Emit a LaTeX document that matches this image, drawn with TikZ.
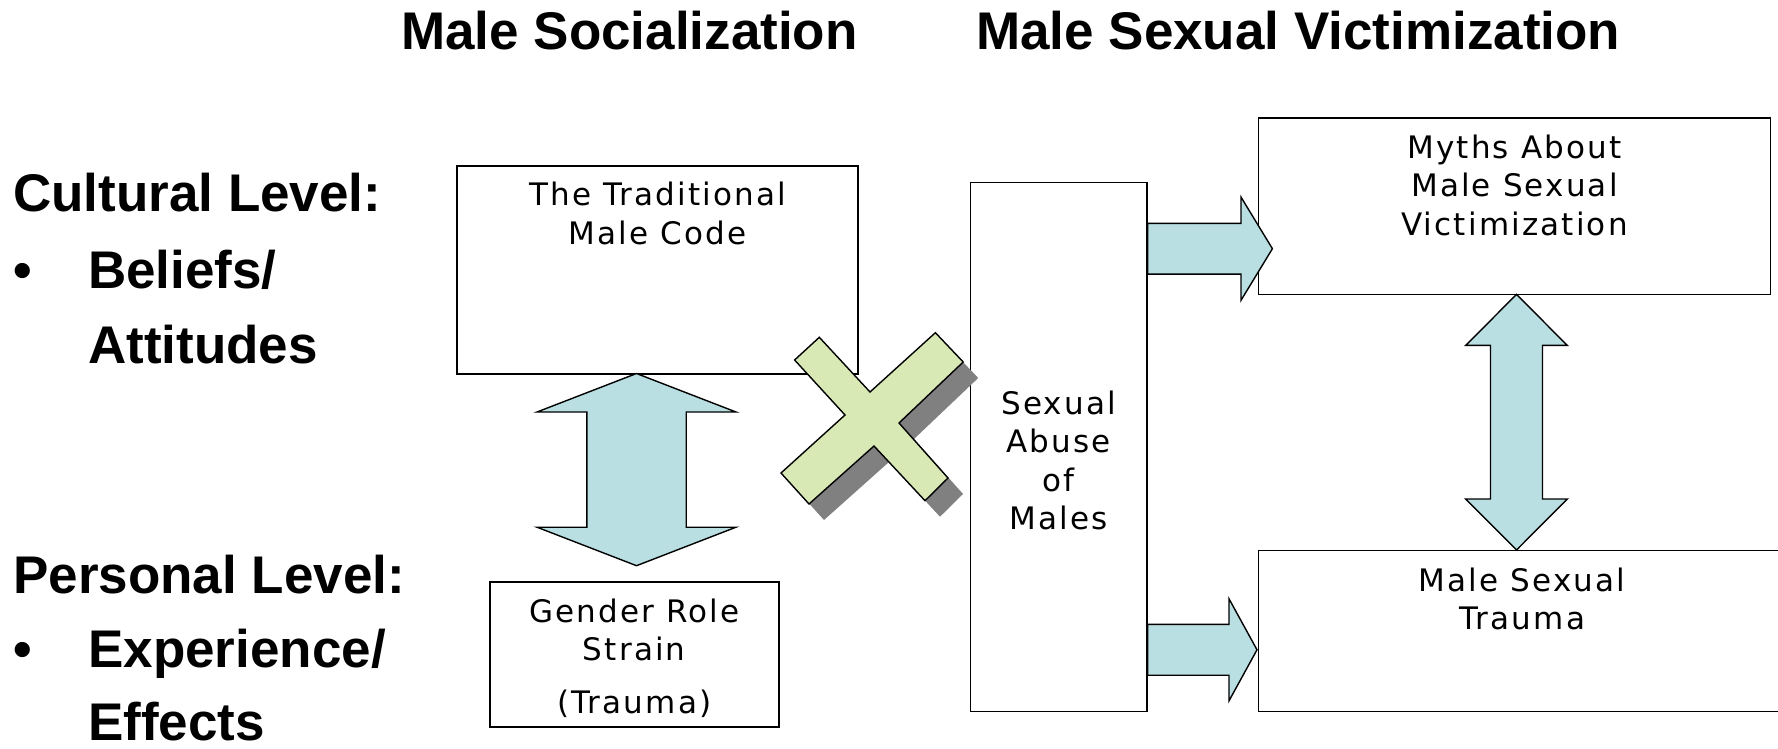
\documentclass[tikz,border=0pt]{standalone}
\usepackage{fontspec}
\setmainfont{Liberation Sans}
\newfontfamily\boxfont[LetterSpace=7]{DejaVu Sans}
\usetikzlibrary{calc}

\definecolor{arrowfill}{RGB}{185,223,227}
\definecolor{crossfill}{RGB}{216,233,182}
\definecolor{crossshadow}{RGB}{128,128,128}

\tikzset{
  box/.style={draw, line width=1.8pt, fill=white, inner sep=0pt, anchor=north west},
  boxtext/.style={font=\boxfont\fontsize{31}{38.5}\selectfont, align=center, inner sep=0pt, anchor=base},
  headline/.style={font=\bfseries\fontsize{53}{64}\selectfont, inner sep=0pt, anchor=base west},
  blockarrow/.style={draw, line width=1.4pt, fill=arrowfill, line join=miter},
}

% vertical double block arrow: top tip, bottom tip, head half width, shaft half width, head length
\newcommand{\vdoublearrow}[5]{%
  \draw[blockarrow] let \p1=(#1), \p2=(#2) in
    (\x1,\y1) -- (\x1+#3pt,\y1-#5pt) -- (\x1+#4pt,\y1-#5pt) -- (\x1+#4pt,\y2+#5pt)
    -- (\x1+#3pt,\y2+#5pt) -- (\x1,\y2) -- (\x1-#3pt,\y2+#5pt) -- (\x1-#4pt,\y2+#5pt)
    -- (\x1-#4pt,\y1-#5pt) -- (\x1-#3pt,\y1-#5pt) -- cycle;}

% block arrow to the right: start, tip, shaft half width, head half width, head length
\newcommand{\rightblock}[5]{%
  \draw[blockarrow] let \p1=(#1), \p2=(#2) in
    (\x1,\y2+#3pt) -- (\x2-#5pt,\y2+#3pt) -- (\x2-#5pt,\y2+#4pt) -- (\x2,\y2)
    -- (\x2-#5pt,\y2-#4pt) -- (\x2-#5pt,\y2-#3pt) -- (\x1,\y2-#3pt) -- cycle;}

\newcommand{\crossshape}{(794.6,360) -- (819.3,337.3) -- (870,392) -- (935.4,332.7)
  -- (963.2,362) -- (899,423) -- (948,478) -- (925,500.7) -- (874,446) -- (809,504)
  -- (781,473) -- (845,415) -- cycle}

\begin{document}
\begin{tikzpicture}[x=1pt,y=-1pt]
  \useasboundingbox (0,0) rectangle (1778,749);

  % column headings
  \node[headline] (socialization) at (401,50) {Male Socialization};
  \node[headline] (victimization) at (976,50) {Male Sexual Victimization};

  % levels
  \node[headline] (cultural) at (13,211.7) {Cultural Level:};
  \node[headline] (beliefsdot) at (13,288) {•};
  \node[headline] (beliefs) at (88,288) {Beliefs/};
  \node[headline] (attitudes) at (88,363) {Attitudes};
  \node[headline] (personal) at (13,593) {Personal Level:};
  \node[headline] (experiencedot) at (13,667) {•};
  \node[headline] (experience) at (88,667) {Experience/};
  \node[headline] (effects) at (88,740) {Effects};

  % boxes
  \node[box, minimum width=400.7, minimum height=208] (code) at (456.4,165) {};
  \node[box, minimum width=288.7, minimum height=145] (strain) at (489,581) {};
  \node[box, minimum width=176.3, minimum height=529] (abuse) at (969.5,181.5) {};
  \node[box, minimum width=512, minimum height=176.5] (myths) at (1257.5,117) {};
  \node[box, minimum width=527.5, minimum height=161] (trauma) at (1257.5,549.5) {};

  % texts sit on the baseline of their last line
  \node[boxtext] (codetext) at ($(code.north)+(0,79)$) {The Traditional\\Male Code};
  \node[boxtext] (straintext) at ($(strain.north)+(0,132.3)$) {Gender Role\\Strain\\[14pt](Trauma)};
  \node[boxtext] (abusetext) at ($(abuse.north)+(0,348.1)$) {Sexual\\Abuse\\of\\Males};
  \node[boxtext] (mythstext) at ($(myths.north)+(0,118)$) {Myths About\\Male Sexual\\Victimization};
  \node[boxtext] (traumatext) at ($(trauma.north)+(0,80)$) {Male Sexual\\Trauma};

  % block arrows
  \coordinate (codetip) at (636.5,373.5);
  \coordinate (straintip) at (636.5,565.7);
  \vdoublearrow{codetip}{straintip}{99.5}{49.7}{38.5}
  \coordinate (mythstip) at (1516.5,294.4);
  \coordinate (traumatip) at (1516.5,550);
  \vdoublearrow{mythstip}{traumatip}{50.8}{26}{51}
  \coordinate (mythsin) at (1272.4,248.7);
  \rightblock{abuse.east}{mythsin}{25.4}{51.6}{31.4}
  \coordinate (traumain) at (1257,649.8);
  \rightblock{abuse.east}{traumain}{25.4}{51}{28}

  % the cross
  \fill[crossshadow, shift={(15,16)}] \crossshape;
  \draw[line width=1.4pt, fill=crossfill] \crossshape;
\end{tikzpicture}
\end{document}
